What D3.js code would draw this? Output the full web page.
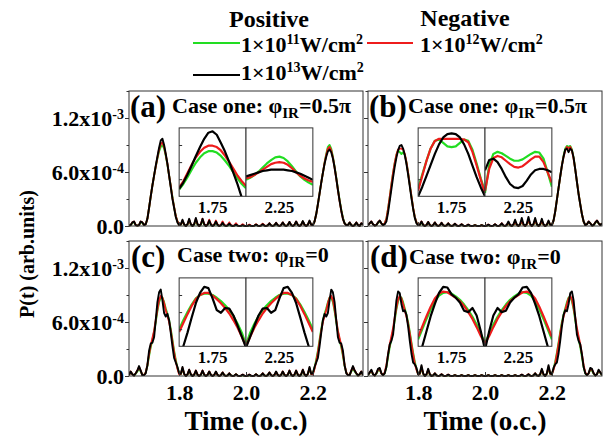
<!DOCTYPE html>
<html><head><meta charset="utf-8">
<script src="https://cdn.jsdelivr.net/npm/d3@7"></script>
<style>
body{margin:0;background:#fff;}
</style></head><body>
<svg id="c" width="607" height="436"></svg>
<script>
// ---------------- DATA ----------------
// main time grid: 1.65 .. 2.35 (o.c.), step 0.005 ; values in units of 1e-4
const T_START = 1.65, T_STEP = 0.005, N_PTS = 141;
const TIME = d3.range(N_PTS).map(i => +(T_START + i * T_STEP).toFixed(3));

const aG=[0.05,0.1,0.35,0.45,0.1,0.05,0.1,0.45,0.35,0.1,0.2,
0.8,2.0,3.3,4.5,5.6,6.6,7.5,8.3,8.8,9.0,8.6,7.8,6.8,5.6,4.4,3.2,2.1,1.1,0.5,0.1,
.12,.5,.12,0,.15,.6,.15,0,.15,.6,.15,0,.15,.6,.15,0,.12,.5,.12,0,.1,.4,.1,0,.08,.3,.08,0,.05,.2,.05,0,.04,.15,.04,0,.02,.1,.02,0,.02,.1,.02,0,.04,.15,.04,0,.05,.2,.05,0,.06,.25,.06,0,.08,.3,.08,0,.09,.35,.09,0,.1,.4,.1,0,.11,.45,.11,0,.12,.5,.12,0,.12,.5,.12,
0.1,0.5,1.3,2.4,3.6,4.8,5.9,7.0,8.0,8.8,9.0,8.6,7.7,6.6,5.4,4.1,2.9,1.8,0.9,0.3,0.1,
0.1,0.35,0.1,0,0.1,0.35,0.1,0,0.25,0.2];
const aR=[0.05,0.1,0.4,0.5,0.1,0.05,0.1,0.5,0.4,0.1,0.2,
0.8,2.0,3.3,4.5,5.6,6.6,7.6,8.5,9.1,9.3,8.8,7.9,6.9,5.6,4.4,3.1,2.1,1.1,0.5,0.1,
.15,.6,.15,0,.18,.7,.18,0,.2,.8,.2,0,.2,.8,.2,0,.18,.7,.18,0,.15,.6,.15,0,.12,.5,.12,0,.1,.4,.1,0,.08,.3,.08,0,.05,.2,.05,0,.04,.15,.04,0,.05,.2,.05,0,.06,.25,.06,0,.08,.3,.08,0,.09,.35,.09,0,.1,.4,.1,0,.11,.45,.11,0,.12,.5,.12,0,.12,.5,.12,0,.14,.55,.14,
0.1,0.5,1.3,2.4,3.6,4.8,5.9,7.0,7.9,8.6,8.8,8.4,7.6,6.5,5.3,4.0,2.8,1.7,0.8,0.3,0.1,
0.1,0.4,0.1,0,0.1,0.4,0.1,0,0.3,0.2];
const aK=[0.05,0.1,0.4,0.5,0.1,0.05,0.1,0.5,0.4,0.1,0.2,
0.8,2.0,3.3,4.5,5.6,6.7,7.7,8.7,9.5,9.7,9.0,8.0,6.9,5.6,4.3,3.0,2.0,1.0,0.4,0.1,
.18,.7,.18,0,.2,.8,.2,0,.22,.9,.22,0,.2,.8,.2,0,.15,.6,.15,0,.12,.5,.12,0,.09,.35,.09,0,.06,.25,.06,0,.04,.15,.04,0,.02,.1,.02,0,.02,.1,.02,0,.04,.15,.04,0,.05,.2,.05,0,.08,.3,.08,0,.09,.35,.09,0,.1,.4,.1,0,.11,.45,.11,0,.12,.5,.12,0,.14,.55,.14,0,.15,.6,.15,
0.1,0.5,1.3,2.4,3.6,4.8,5.9,6.9,7.7,8.3,8.5,8.2,7.5,6.5,5.3,4.0,2.8,1.7,0.8,0.3,0.1,
0.1,0.4,0.1,0,0.1,0.4,0.1,0,0.3,0.2];

const bG=[0.1,0.3,0.45,0.2,0.05,0.1,0.35,0.5,0.3,0.1,
0.3,0.8,1.9,3.2,4.6,5.9,7.0,7.9,8.4,8.2,8.0,8.2,7.9,7.1,5.9,4.6,3.3,2.0,1.0,0.4,0.1,
.1,.4,.1,0,.1,.4,.1,0,.09,.35,.09,0,.08,.3,.08,0,.06,.25,.06,0,.05,.2,.05,0,.04,.15,.04,0,.02,.1,.02,0,.02,.1,.02,0,.02,.1,.02,0,.02,.1,.02,0,.04,.15,.04,0,.05,.2,.05,0,.08,.3,.08,0,.1,.4,.1,0,.12,.5,.12,0,.15,.6,.15,0,.15,.6,.15,0,.12,.5,.12,0,.1,.4,.1,
0.1,0.6,1.6,2.9,4.2,5.5,6.7,7.8,8.6,8.9,8.8,8.9,8.5,7.6,6.3,4.9,3.6,2.4,1.3,0.5,0.1,
0.2,0.45,0.3,0.05,0.1,0.35,0.5,0.3,0.1,0.3];
const bR=[0.1,0.3,0.5,0.2,0.05,0.1,0.4,0.6,0.3,0.1,
0.3,0.8,1.9,3.2,4.6,5.9,7.0,7.9,8.5,8.6,8.6,8.5,8.0,7.1,5.9,4.6,3.3,2.0,1.0,0.4,0.1,
.12,.5,.12,0,.11,.45,.11,0,.1,.4,.1,0,.09,.35,.09,0,.08,.3,.08,0,.06,.25,.06,0,.05,.2,.05,0,.04,.15,.04,0,.02,.1,.02,0,.02,.1,.02,0,.04,.15,.04,0,.05,.2,.05,0,.08,.3,.08,0,.1,.4,.1,0,.12,.5,.12,0,.15,.6,.15,0,.18,.7,.18,0,.18,.7,.18,0,.15,.6,.15,0,.12,.5,.12,
0.1,0.6,1.6,2.9,4.2,5.5,6.7,7.7,8.4,8.8,8.6,8.8,8.4,7.5,6.3,4.9,3.6,2.4,1.3,0.5,0.1,
0.2,0.5,0.3,0.05,0.1,0.4,0.6,0.3,0.1,0.3];
const bK=[0.1,0.3,0.5,0.2,0.05,0.1,0.4,0.6,0.3,0.1,
0.2,0.5,1.5,2.8,4.1,5.4,6.6,7.6,8.4,8.9,9.0,8.6,7.9,6.9,5.7,4.4,3.1,1.9,0.9,0.3,0.1,
.12,.5,.12,0,.11,.45,.11,0,.1,.4,.1,0,.09,.35,.09,0,.08,.3,.08,0,.06,.25,.06,0,.05,.2,.05,0,.04,.15,.04,0,.02,.1,.02,0,.02,.1,.02,0,.04,.15,.04,0,.05,.2,.05,0,.08,.3,.08,0,.12,.5,.12,0,.18,.7,.18,0,.22,.9,.22,0,.25,1.0,.25,0,.22,.9,.22,0,.2,.8,.2,0,.15,.6,.15,
0.1,0.6,1.6,2.9,4.2,5.5,6.7,7.7,8.5,8.6,8.2,8.6,8.4,7.6,6.3,4.9,3.5,2.4,1.3,0.5,0.1,
0.2,0.5,0.3,0.05,0.1,0.4,0.6,0.3,0.1,0.3];

const cG=[0.1,0.45,0.2,0.05,0.25,0.5,0.9,0.5,0.1,0.1,
0.4,1.1,2.2,3.2,4.0,4.9,6.0,7.2,8.2,8.7,8.7,8.2,7.5,6.9,6.2,5.2,4.0,2.8,1.8,0.9,0.3,
.2,.8,.2,0,.15,.6,.15,0,.12,.5,.12,0,.12,.5,.12,0,.11,.45,.11,0,.1,.4,.1,0,.09,.35,.09,0,.06,.25,.06,0,.05,.2,.05,0,.02,.1,.02,0,.02,.1,.02,0,.05,.2,.05,0,.06,.25,.06,0,.09,.35,.09,0,.1,.4,.1,0,.11,.45,.11,0,.12,.5,.12,0,.12,.5,.12,0,.15,.6,.15,0,.2,.8,.2,
0.3,0.9,1.8,2.8,4.0,5.2,6.2,6.9,7.5,8.2,8.7,8.7,8.2,7.2,6.0,4.9,4.0,3.2,2.2,1.1,0.4,
0.1,0.1,0.5,0.9,0.5,0.25,0.05,0.2,0.45,0.1];
const cR=[0.1,0.5,0.2,0.05,0.3,0.6,1.0,0.6,0.1,0.1,
0.4,1.2,2.4,3.4,4.2,5.0,6.2,7.4,8.4,8.9,8.7,8.1,7.3,6.7,6.0,5.0,3.8,2.6,1.6,0.8,0.2,
.22,.9,.22,0,.18,.7,.18,0,.15,.6,.15,0,.15,.6,.15,0,.12,.5,.12,0,.11,.45,.11,0,.1,.4,.1,0,.08,.3,.08,0,.05,.2,.05,0,.04,.15,.04,0,.04,.15,.04,0,.05,.2,.05,0,.08,.3,.08,0,.1,.4,.1,0,.11,.45,.11,0,.12,.5,.12,0,.15,.6,.15,0,.15,.6,.15,0,.18,.7,.18,0,.22,.9,.22,
0.2,0.8,1.6,2.6,3.8,5.0,6.0,6.7,7.3,8.1,8.7,8.9,8.4,7.4,6.2,5.0,4.2,3.4,2.4,1.2,0.4,
0.1,0.1,0.6,1.0,0.6,0.3,0.05,0.2,0.5,0.1];
const cK=[0.1,0.5,0.2,0.05,0.3,0.6,1.1,0.6,0.1,0.1,
0.3,1.2,2.8,3.6,3.7,4.3,6.2,8.2,9.3,9.6,8.4,7.0,6.6,6.9,6.2,4.8,3.3,2.0,1.5,1.0,0.3,
.25,1.0,.25,0,.18,.7,.18,0,.15,.6,.15,0,.15,.6,.15,0,.12,.5,.12,0,.12,.5,.12,0,.1,.4,.1,0,.08,.3,.08,0,.05,.2,.05,0,.04,.15,.04,0,.04,.15,.04,0,.05,.2,.05,0,.08,.3,.08,0,.1,.4,.1,0,.12,.5,.12,0,.12,.5,.12,0,.15,.6,.15,0,.15,.6,.15,0,.18,.7,.18,0,.25,1.0,.25,
0.3,1.0,1.5,2.0,3.3,4.8,6.2,6.9,6.6,7.0,8.4,9.6,9.3,8.2,6.2,4.3,3.7,3.6,2.8,1.2,0.3,
0.1,0.1,0.6,1.1,0.6,0.3,0.05,0.2,0.5,0.1];

const dG=[0.1,0.35,0.55,0.2,0.05,0.25,0.6,0.7,0.3,0.1,
0.3,1.0,2.1,3.2,4.1,5.0,6.2,7.4,8.3,8.8,8.7,8.2,7.5,6.8,6.0,4.9,3.7,2.6,1.6,0.8,0.2,
.22,.9,.22,0,.15,.6,.15,0,.06,.25,.06,0,.04,.15,.04,0,.02,.1,.02,0,
.02,.1,.02,0,.02,.1,.02,0,.02,.1,.02,0,.02,.1,.02,0,.02,.1,.02,0,.02,.1,.02,0,.02,.1,.02,0,.02,.1,.02,0,.02,.1,.02,0,.02,.1,.02,0,
.02,.1,.02,0,.04,.15,.04,0,.06,.25,.06,0,.15,.6,.15,0,.22,.9,.22,
0.2,0.8,1.6,2.6,3.7,4.9,6.0,6.8,7.5,8.2,8.7,8.8,8.3,7.4,6.2,5.0,4.1,3.2,2.1,1.0,0.3,
0.1,0.3,0.7,0.6,0.25,0.05,0.2,0.55,0.35,0.1];
const dR=[0.1,0.4,0.6,0.2,0.05,0.3,0.7,0.8,0.3,0.1,
0.4,1.2,2.4,3.5,4.4,5.3,6.5,7.6,8.5,8.9,8.6,8.0,7.3,6.6,5.8,4.7,3.5,2.4,1.4,0.7,0.2,
.25,1.0,.25,0,.18,.7,.18,0,.08,.3,.08,0,.05,.2,.05,0,.04,.15,.04,0,
.02,.1,.02,0,.02,.1,.02,0,.02,.1,.02,0,.02,.1,.02,0,.02,.1,.02,0,.02,.1,.02,0,.02,.1,.02,0,.02,.1,.02,0,.02,.1,.02,0,.02,.1,.02,0,
.04,.15,.04,0,.05,.2,.05,0,.08,.3,.08,0,.18,.7,.18,0,.25,1.0,.25,
0.2,0.7,1.4,2.4,3.5,4.7,5.8,6.6,7.3,8.0,8.6,8.9,8.5,7.6,6.5,5.3,4.4,3.5,2.4,1.2,0.4,
0.1,0.3,0.8,0.7,0.3,0.05,0.2,0.6,0.4,0.1];
const dK=[0.1,0.4,0.7,0.2,0.05,0.3,0.8,0.9,0.3,0.1,
0.3,1.0,2.4,3.5,3.9,4.6,6.5,8.4,9.4,9.2,8.0,7.2,7.3,6.8,5.5,3.9,2.5,1.5,1.3,0.9,0.2,
.3,1.2,.3,0,.2,.8,.2,0,.08,.3,.08,0,.05,.2,.05,0,.04,.15,.04,0,
.02,.1,.02,0,.02,.1,.02,0,.02,.1,.02,0,.02,.1,.02,0,.02,.1,.02,0,.02,.1,.02,0,.02,.1,.02,0,.02,.1,.02,0,.02,.1,.02,0,.02,.1,.02,0,
.04,.15,.04,0,.05,.2,.05,0,.08,.3,.08,0,.2,.8,.2,0,.3,1.2,.3,
0.2,0.9,1.3,1.5,2.5,3.9,5.5,6.8,7.3,7.2,8.0,9.2,9.4,8.4,6.5,4.6,3.9,3.5,2.4,1.0,0.3,
0.1,0.3,0.9,0.8,0.3,0.05,0.2,0.7,0.4,0.1];

// inset time grids (left half around 1.75, right half around 2.25)
const INSET_TIME_L = d3.range(17).map(i => +(1.71 + i * 0.005).toFixed(3));
const INSET_TIME_R = d3.range(17).map(i => +(2.21 + i * 0.005).toFixed(3));
const INSET_DOMAIN_L = [1.71, 1.79], INSET_DOMAIN_R = [2.21, 2.29];
const INSET_Y_DOMAIN = [0, 10];
const INSET_TICK_LABELS = ['1.75', '2.25'];

const iaLG=[1.0,1.8,2.8,3.9,4.9,5.7,6.3,6.6,6.6,6.4,5.9,5.2,4.4,3.5,2.6,1.8,1.2];
const iaLR=[1.3,2.2,3.4,4.6,5.7,6.5,7.1,7.4,7.4,7.2,6.7,5.9,5.0,4.0,3.0,2.2,1.5];
const iaLK=[1.1,2.0,3.2,4.5,5.9,7.2,8.4,9.3,9.5,9.0,7.8,6.5,5.0,3.4,1.7,-0.2,-2.0];
const iaRG=[2.4,2.7,3.1,3.6,4.2,4.8,5.3,5.7,5.8,5.6,5.1,4.4,3.6,2.9,2.4,2.0,1.7];
const iaRR=[2.6,2.8,3.1,3.5,3.9,4.3,4.7,4.9,5.0,4.9,4.6,4.1,3.5,3.0,2.6,2.3,2.1];
const iaRK=[2.9,3.1,3.3,3.5,3.7,3.8,3.9,3.9,3.9,3.9,3.8,3.7,3.5,3.3,3.0,2.7,2.4];

const ibLG=[1.2,3.2,5.2,7.0,8.1,8.3,7.8,7.3,7.2,7.3,7.8,8.3,8.1,6.8,4.8,2.6,0.7];
const ibLR=[0.8,3.0,5.2,7.0,8.1,8.4,8.4,8.4,8.4,8.4,8.4,8.3,7.9,6.5,4.5,2.4,0.4];
const ibLK=[0,1.4,3.0,4.6,6.2,7.6,8.6,9.1,9.2,9.1,8.6,7.6,6.2,4.5,2.8,1.3,0];
const ibRG=[0.5,4.5,6.2,6.5,6.3,5.9,5.5,5.2,5.2,5.4,5.8,6.2,6.5,6.4,5.5,3.5,1.4];
const ibRR=[0.8,4.0,5.6,5.9,5.7,5.2,4.7,4.3,4.2,4.4,4.9,5.4,5.8,5.8,5.0,3.5,2.0];
const ibRK=[3.8,5.3,5.5,5.0,4.0,2.8,1.8,1.3,1.2,1.5,2.3,3.2,3.8,4.0,4.0,3.8,3.5];

const icLG=[2.5,3.8,5.0,6.1,7.0,7.5,7.7,7.7,7.5,7.1,6.6,6.0,5.3,4.4,3.3,2.0,0.2];
const icLR=[2.1,3.4,4.7,5.9,6.9,7.5,7.8,7.8,7.4,6.9,6.3,5.6,4.8,3.8,2.7,1.4,0];
const icLK=[-1.0,0,2.0,4.2,6.3,7.8,8.7,8.5,7.0,5.3,4.9,5.6,5.5,4.5,3.0,1.4,-0.2];
const icRG=[0.2,2.0,3.3,4.4,5.3,6.0,6.6,7.1,7.5,7.7,7.7,7.5,7.0,6.1,5.0,3.8,2.5];
const icRR=[0,1.4,2.7,3.8,4.8,5.6,6.3,6.9,7.4,7.8,7.8,7.5,6.9,5.9,4.7,3.4,2.1];
const icRK=[-0.2,1.4,3.0,4.5,5.5,5.6,4.9,5.3,7.0,8.5,8.7,7.8,6.3,4.2,2.0,0,-1.0];

const idLG=[1.0,2.5,4.0,5.4,6.6,7.4,7.8,7.9,7.7,7.3,6.8,6.1,5.3,4.3,3.2,1.8,0.5];
const idLR=[1.4,2.9,4.4,5.8,7.0,7.7,8.0,7.9,7.5,7.1,6.6,5.9,5.0,4.0,2.8,1.5,0.4];
const idLK=[-1.0,0,2.2,4.4,6.2,7.8,8.7,8.6,7.6,7.1,6.4,5.2,5.0,5.6,4.5,2.2,-0.5];
const idRG=[0.5,1.8,3.2,4.3,5.3,6.1,6.8,7.3,7.7,7.9,7.8,7.4,6.6,5.4,4.0,2.5,1.0];
const idRR=[0.4,1.5,2.8,4.0,5.0,5.9,6.6,7.1,7.5,7.9,8.0,7.7,7.0,5.8,4.4,2.9,1.4];
const idRK=[-0.5,2.2,4.5,5.6,5.0,5.2,6.4,7.1,7.6,8.6,8.7,7.8,6.2,4.4,2.2,0,-1.0];

// axes / labels
const X_DOMAIN = [1.65, 2.35];
const X_TICKS = [1.8, 2.0, 2.2];
const Y_DOMAIN = [0, 15];           // units of 1e-4
const Y_MAJOR = [0, 6, 12];
const Y_MAJOR_LABELS = [['0.0', ''], ['6.0x10', '-4'], ['1.2x10', '-3']];
const Y_MINOR = [3, 9, 15];
const PANEL_LABELS = ['(a)', '(b)', '(c)', '(d)'];
const PANEL_TITLES = [['Case one: φ', 'IR', '=0.5π'], ['Case one: φ', 'IR', '=0.5π'],
                      ['Case two: φ', 'IR', '=0'], ['Case two: φ', 'IR', '=0']];
const LEGEND_HEADERS = ['Positive', 'Negative'];
const LEGEND_LABELS = [['1×10', '11', 'W/cm', '2'], ['1×10', '12', 'W/cm', '2'], ['1×10', '13', 'W/cm', '2']];
const X_TITLE = 'Time (o.c.)';
const Y_TITLE = 'P(t) (arb.units)';

// ---------------- LAYOUT ----------------
const FONT = '"Liberation Serif", "Times New Roman", "DejaVu Serif", serif';
const COLORS = ['#22dd22', '#ee1c1c', '#000000'];
const PW = 234, PH = 135;
const INSET_BOX = { t0: 1.8, t1: 2.2, v0: 3.3, v1: 10.9 };
const panels = [
  { x: 129, y: 91,  s: [aG, aR, aK], iL: [iaLG, iaLR, iaLK], iR: [iaRG, iaRR, iaRK], yl: true,  xl: false, lab: [1, 26], tit: [43, 22] },
  { x: 368, y: 91,  s: [bG, bR, bK], iL: [ibLG, ibLR, ibLK], iR: [ibRG, ibRR, ibRK], yl: false, xl: false, lab: [1, 26], tit: [40, 22] },
  { x: 129, y: 241, s: [cG, cR, cK], iL: [icLG, icLR, icLK], iR: [icRG, icRR, icRK], yl: true,  xl: true,  lab: [2, 26], tit: [48, 21] },
  { x: 368, y: 241, s: [dG, dR, dK], iL: [idLG, idLR, idLK], iR: [idRG, idRR, idRK], yl: false, xl: true,  lab: [2, 26], tit: [41, 23] },
];

const svg = d3.select('#c');
svg.append('rect').attr('width', 607).attr('height', 436).attr('fill', '#fff');

// sanity check of array lengths
const bad = [];
panels.forEach((p, i) => p.s.forEach((s, k) => { if (s.length !== N_PTS) bad.push(PANEL_LABELS[i] + k + ':' + s.length); }));
panels.forEach((p, i) => [...p.iL, ...p.iR].forEach((s, k) => { if (s.length !== 17) bad.push('inset' + PANEL_LABELS[i] + k + ':' + s.length); }));
if (bad.length) svg.append('text').attr('x', 2).attr('y', 434).attr('font-size', 9).attr('fill', 'blue').text(bad.join(' '));

function styleText(sel, size) {
  return sel.style('font-family', FONT).style('font-weight', 'bold').style('font-size', size + 'px').attr('fill', '#000');
}

panels.forEach((p, i) => {
  const g = svg.append('g').attr('transform', `translate(${p.x},${p.y})`);
  const sx = d3.scaleLinear().domain(X_DOMAIN).range([0, PW]);
  const sy = d3.scaleLinear().domain(Y_DOMAIN).range([PH, 0]);
  const cid = 'clipP' + i;
  g.append('clipPath').attr('id', cid).append('rect').attr('x', 0).attr('y', -1).attr('width', PW).attr('height', PH + 2);
  const line = d3.line().x((d, j) => sx(TIME[j])).y(d => sy(d));
  const lg = g.append('g').attr('clip-path', `url(#${cid})`);
  p.s.forEach((s, k) => lg.append('path').attr('d', line(s)).attr('fill', 'none')
    .attr('stroke', COLORS[k]).attr('stroke-width', 1.9).attr('stroke-linejoin', 'round'));

  g.append('rect').attr('x', 0).attr('y', 0).attr('width', PW).attr('height', PH)
    .attr('fill', 'none').attr('stroke', '#333').attr('stroke-width', 1);

  // y axis
  const gy = g.append('g').call(d3.axisLeft(sy).tickValues(Y_MAJOR).tickSize(4).tickPadding(1).tickFormat(() => ''));
  gy.select('.domain').remove();
  gy.selectAll('line').attr('stroke', '#333');
  if (p.yl) {
    gy.selectAll('.tick text').each(function (d) {
      const lab = Y_MAJOR_LABELS[Y_MAJOR.indexOf(d)];
      const t = d3.select(this).text(null).attr('dy', '0.33em');
      styleText(t, 22);
      t.append('tspan').text(lab[0]);
      if (lab[1]) t.append('tspan').style('font-size', '14px').attr('dy', -7).text(lab[1]);
    });
  }
  const gy2 = g.append('g').call(d3.axisLeft(sy).tickValues(Y_MINOR).tickSize(2.5).tickFormat(() => ''));
  gy2.select('.domain').remove();
  gy2.selectAll('line').attr('stroke', '#333');

  // x axis (inward ticks)
  const gx = g.append('g').attr('transform', `translate(0,${PH})`)
    .call(d3.axisBottom(sx).tickValues(X_TICKS).tickSizeInner(-4).tickSizeOuter(0)
      .tickFormat(p.xl ? d3.format('.1f') : () => ''));
  gx.select('.domain').remove();
  gx.selectAll('line').attr('stroke', '#333');
  styleText(gx.selectAll('.tick text').attr('y', 24).attr('dy', 0), 22);

  // panel label + title
  styleText(g.append('text').attr('x', p.lab[0]).attr('y', p.lab[1]).text(PANEL_LABELS[i]), 31);
  const tt = styleText(g.append('text').attr('x', p.tit[0]).attr('y', p.tit[1]), 22);
  const tp = PANEL_TITLES[i];
  tt.append('tspan').text(tp[0]);
  tt.append('tspan').style('font-size', '15px').attr('dy', 5).text(tp[1]);
  tt.append('tspan').attr('dy', -5).text(tp[2]);

  // inset
  const ix0 = sx(INSET_BOX.t0), ix1 = sx(INSET_BOX.t1), ixm = (ix0 + ix1) / 2;
  const iy0 = sy(INSET_BOX.v1), iy1 = sy(INSET_BOX.v0);
  const halves = [
    { a: ix0, b: ixm, dom: INSET_DOMAIN_L, time: INSET_TIME_L, ser: p.iL, lab: INSET_TICK_LABELS[0] },
    { a: ixm, b: ix1, dom: INSET_DOMAIN_R, time: INSET_TIME_R, ser: p.iR, lab: INSET_TICK_LABELS[1] },
  ];
  halves.forEach((h, hi) => {
    const isx = d3.scaleLinear().domain(h.dom).range([h.a, h.b]);
    const isy = d3.scaleLinear().domain(INSET_Y_DOMAIN).range([iy1, iy0]);
    const icid = 'clipI' + i + hi;
    g.append('clipPath').attr('id', icid).append('rect').attr('x', h.a).attr('y', iy0).attr('width', h.b - h.a).attr('height', iy1 - iy0);
    g.append('rect').attr('x', h.a).attr('y', iy0).attr('width', h.b - h.a).attr('height', iy1 - iy0).attr('fill', '#fff');
    const il = d3.line().x((d, j) => isx(h.time[j])).y(d => isy(d));
    const ig = g.append('g').attr('clip-path', `url(#${icid})`);
    h.ser.forEach((s, k) => ig.append('path').attr('d', il(s)).attr('fill', 'none')
      .attr('stroke', COLORS[k]).attr('stroke-width', 2.2).attr('stroke-linejoin', 'round'));
    g.append('rect').attr('x', h.a).attr('y', iy0).attr('width', h.b - h.a).attr('height', iy1 - iy0)
      .attr('fill', 'none').attr('stroke', '#333').attr('stroke-width', 1);
    if (hi === 0) {
      const ia = g.append('g').attr('transform', `translate(${h.a},0)`)
        .call(d3.axisRight(isy).tickValues([2.5, 5, 7.5]).tickSize(3).tickFormat(() => ''));
      ia.select('.domain').remove();
      ia.selectAll('line').attr('stroke', '#333');
    }
    styleText(g.append('text').attr('x', (h.a + h.b) / 2).attr('y', iy1 + 17)
      .attr('text-anchor', 'middle').text(h.lab), 17);
  });

  if (p.xl) {
    styleText(g.append('text').attr('x', PW / 2).attr('y', PH + 54).attr('text-anchor', 'middle').text(X_TITLE), 27);
  }
});

// y title
styleText(svg.append('text').attr('transform', 'translate(34,254) rotate(-90)')
  .attr('text-anchor', 'middle').text(Y_TITLE), 20);

// legend
styleText(svg.append('text').attr('x', 269).attr('y', 27).attr('text-anchor', 'middle').text(LEGEND_HEADERS[0]), 24);
styleText(svg.append('text').attr('x', 465).attr('y', 26).attr('text-anchor', 'middle').text(LEGEND_HEADERS[1]), 24);
const legPos = [
  { x1: 193, x2: 240, y: 43, tx: 241, ty: 52 },
  { x1: 367, x2: 413, y: 43, tx: 420, ty: 52 },
  { x1: 193, x2: 240, y: 75, tx: 241, ty: 80 },
];
LEGEND_LABELS.forEach((lab, k) => {
  const lp = legPos[k];
  svg.append('line').attr('x1', lp.x1).attr('x2', lp.x2).attr('y1', lp.y).attr('y2', lp.y)
    .attr('stroke', COLORS[k]).attr('stroke-width', 2);
  const t = styleText(svg.append('text').attr('x', lp.tx).attr('y', lp.ty), 22);
  t.append('tspan').text(lab[0]);
  t.append('tspan').style('font-size', '14px').attr('dy', -8).text(lab[1]);
  t.append('tspan').attr('dy', 8).text(lab[2]);
  t.append('tspan').style('font-size', '14px').attr('dy', -8).text(lab[3]);
});
</script>
</body></html>
